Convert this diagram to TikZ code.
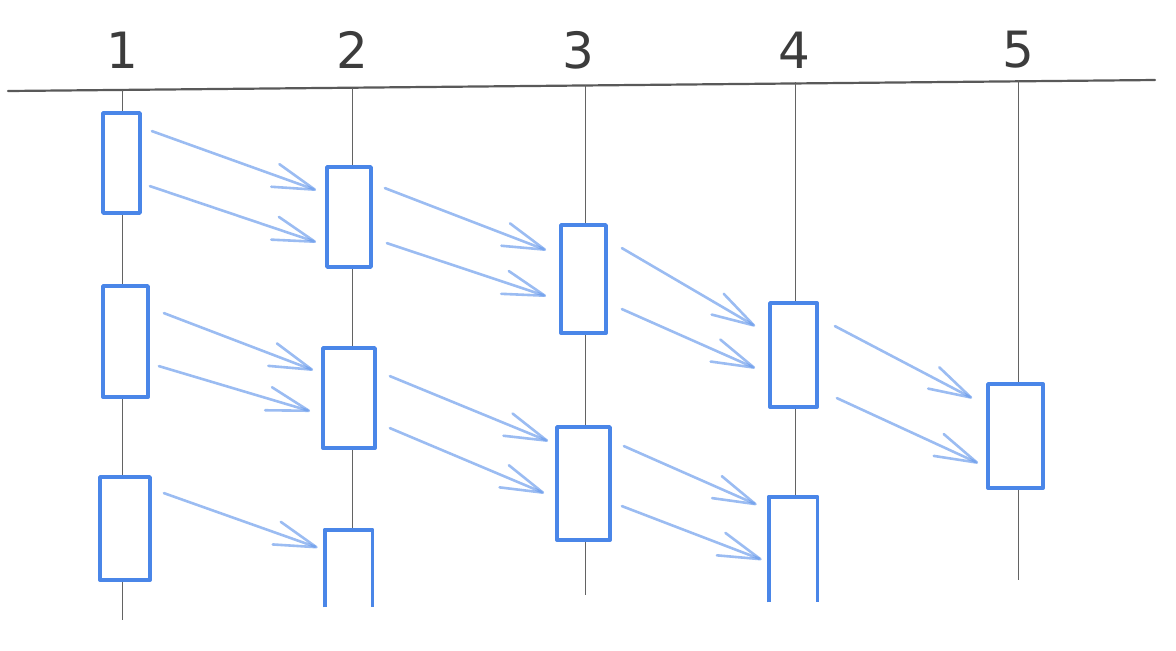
\documentclass[tikz,border=0pt]{standalone}
\usepackage{fontspec}
\setmainfont{DejaVu Sans}
\usetikzlibrary{arrows.meta}
\definecolor{pen}{HTML}{4A86E8}
\definecolor{ink}{HTML}{3C3C3C}
\begin{document}
\begin{tikzpicture}[x=.5pt,y=-.5pt,
  act/.style 2 args={draw=pen,fill=white,line width=1.9pt,line join=round,inner sep=0pt,minimum width=#1*.5pt,minimum height=#2*.5pt},
  actopen/.style 2 args={fill=white,inner sep=0pt,minimum width=#1*.5pt,minimum height=#2*.5pt},
  msg/.style={pen!85,opacity=.65,line width=1.3pt,line cap=round,-{Straight Barb[length=21pt,width=12pt,round]}},
  life/.style={ink!80,line width=.5pt},
  num/.style={ink,font=\fontsize{25}{25}\selectfont}]
\useasboundingbox (0,0) rectangle (1176,650);
\draw[ink!85,line width=1.1pt,line cap=round] (8,91)--(1155,80);
% lifelines
\foreach \n/\nx/\lx/\y/\b in {1/122/122/90/620,2/352/352/88/530,3/578/585/85/595,4/794/795/82/500,5/1018/1018/80/580}{
  \node[num] (n\n) at (\nx,50) {\n};
  \coordinate (t\n) at (\lx,\y); \coordinate (e\n) at (\lx,\b);
  \draw[life] (t\n)--(e\n);}
% activations
\foreach \r/\cx/\cy/\w/\h in {a1/121.5/163/37/100,a2/125.5/341.5/45/111,a3/125/528.5/50/103,b1/349/217/44/100,b2/349/398/52/100,c1/583.5/279/45/108,c2/583.5/483.5/53/113,d1/793.5/355/47/104,e1/1015.5/436/55/104}
  \node[act={\w}{\h}] (\r) at (\cx,\cy) {};
\foreach \r/\cx/\cy/\w/\h in {b3/348.5/568.5/47/77,d2/793/549.5/48/105}{
  \node[actopen={\w}{\h}] (\r) at (\cx,\cy) {};
  \draw[pen,line width=1.9pt,line join=round] (\r.south west)--(\r.north west)--(\r.north east)--(\r.south east);}
% messages
\foreach \s/\sx/\sy/\t/\tx/\ty in {a1/10/20/b1/-9/25,a1/8/75/b1/-9/77,a2/14/29/b2/-8/24,a2/9/82/b2/-11/65,a3/12/18/b3/-7/18,
  b1/12/23/c1/-13/27,b1/14/78/c1/-13/73,b2/13/30/c2/-7/16,b2/13/82/c2/-11/68,
  c1/14/25/d1/-13/25,c1/14/86/d1/-13/67,c2/12/21/d2/-12/8,c2/10/81/d2/-7/63,
  d1/16/25/e1/-14/16,d1/18/97/e1/-8/81}
  \draw[msg] ([shift={(\sx,\sy)}]\s.north east)--([shift={(\tx,\ty)}]\t.north west);
\end{tikzpicture}
\end{document}
